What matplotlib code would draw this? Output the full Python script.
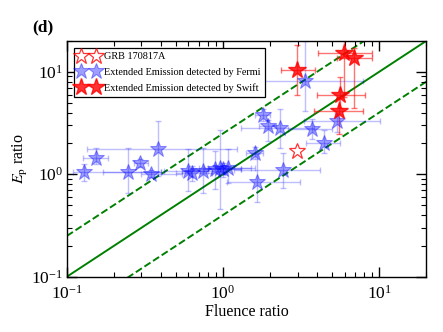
import numpy as np
import matplotlib.pyplot as plt

plt.rcParams['font.family'] = ['Liberation Serif', 'DejaVu Serif']
plt.rcParams['mathtext.fontset'] = 'stix'

# Fermi extended emission (blue)
fermi_x = [0.129, 0.154, 0.247, 0.294, 0.346, 0.384, 0.597, 0.634, 0.745, 0.889, 0.957, 1.076,
           1.00, 1.60, 1.65, 2.42, 1.80, 1.94, 2.32, 3.71, 4.43, 5.36, 3.35]
fermi_y = [1.05, 1.44, 1.05, 1.29, 1.01, 1.76, 1.08, 1.03, 1.08, 1.13, 1.15, 1.15,
           1.13, 1.61, 0.84, 1.10, 3.83, 2.93, 2.80, 2.74, 2.01, 3.28, 8.17]
fermi_xlo = [0.11, 0.127, 0.17, 0.27, 0.30, 0.135, 0.42, 0.50, 0.55, 0.60, 0.70, 0.80,
             0.75, 1.40, 1.06, 1.17, 1.60, 1.70, 1.30, 2.60, 3.40, 3.30, 1.55]
fermi_xhi = [0.40, 0.184, 0.40, 0.33, 0.55, 1.23, 0.80, 0.85, 1.00, 1.30, 1.60, 1.50,
             1.30, 1.80, 3.10, 4.20, 2.00, 2.20, 3.80, 5.00, 5.60, 10.1, 7.90]
fermi_ylo = [0.86, 1.26, 0.66, 1.18, 0.93, 0.96, 0.69, 0.85, 0.66, 0.71, 0.46, 0.82,
             0.95, 1.40, 0.53, 0.74, 3.30, 2.10, 1.80, 2.20, 1.60, 2.60, 4.10]
fermi_yhi = [1.26, 1.80, 1.80, 1.42, 1.10, 3.28, 1.75, 1.20, 1.80, 1.67, 2.73, 1.75,
             1.30, 1.84, 1.56, 1.60, 4.30, 3.40, 4.30, 3.50, 2.70, 4.00, 20.0]

# Swift extended emission (red)
swift_x = [2.97, 5.94, 6.89, 5.61, 5.52]
swift_y = [10.4, 15.2, 13.6, 5.98, 4.19]
swift_xlo = [2.34, 4.06, 5.40, 3.97, 3.80]
swift_xhi = [3.87, 8.98, 9.00, 8.10, 7.90]
swift_ylo = [6.0, 5.7, 4.4, 4.4, 2.45]
swift_yhi = [18.2, 22.0, 17.0, 8.9, 5.5]

# GRB 170817A
grb_x = [2.97]
grb_y = [1.68]

line_factor = 2.5
line_x = np.array([0.1, 20.0])

fig = plt.figure(figsize=(4.43, 3.32), dpi=100)
ax = fig.add_axes([0.151, 0.1666, 0.811, 0.71])

ax.plot(line_x, line_x, '-', color='green', lw=1.4, zorder=1)
ax.plot(line_x, line_x * line_factor, '--', color='green', lw=1.4, zorder=1)
ax.plot(line_x, line_x / line_factor, '--', color='green', lw=1.4, zorder=1)

fx = np.array(fermi_x)
fy = np.array(fermi_y)
ax.errorbar(fx, fy,
            xerr=[fx - np.array(fermi_xlo), np.array(fermi_xhi) - fx],
            yerr=[fy - np.array(fermi_ylo), np.array(fermi_yhi) - fy],
            fmt='none', ecolor='blue', alpha=0.25, elinewidth=1.0, capsize=2, zorder=2)
h_fermi, = ax.plot(fx, fy, '*', color='blue', alpha=0.38, ms=12, mec='blue', mew=0.8,
                   ls='none', zorder=3, label='Extended Emission detected by Fermi')

sx = np.array(swift_x)
sy = np.array(swift_y)
ax.errorbar(sx, sy,
            xerr=[sx - np.array(swift_xlo), np.array(swift_xhi) - sx],
            yerr=[sy - np.array(swift_ylo), np.array(swift_yhi) - sy],
            fmt='none', ecolor='red', alpha=0.55, elinewidth=1.0, capsize=2, zorder=2)
h_swift, = ax.plot(sx, sy, '*', color='red', alpha=0.8, ms=13, ls='none', zorder=4,
                   label='Extended Emission detected by Swift')

h_grb, = ax.plot(grb_x, grb_y, '*', mfc='none', mec='red', alpha=0.8, ms=12, mew=0.9,
                 ls='none', zorder=4, label='GRB 170817A')

ax.set_xscale('log')
ax.set_yscale('log')
ax.set_xlim(0.1, 20)
ax.set_ylim(0.1, 20)
ax.tick_params(which='both', direction='in', top=True, right=True, labelsize=12.5)
ax.tick_params(axis='x', pad=6)
ax.tick_params(axis='y', pad=3)
ax.tick_params(which='major', length=7, width=1)
ax.tick_params(which='minor', length=3.5, width=0.8)
for sp in ax.spines.values():
    sp.set_linewidth(1)

ax.set_xlabel('Fluence ratio', fontsize=11.5, labelpad=1)
ax.set_ylabel(r'$E_{\rm p}$ ratio', fontsize=11.5, labelpad=1)

leg = ax.legend(handles=[h_grb, h_fermi, h_swift], loc='upper left', numpoints=2,
                fontsize=7.4, fancybox=False, edgecolor='black', framealpha=1,
                borderaxespad=0.65, handletextpad=0.5, borderpad=0.45, labelspacing=0.6,
                handlelength=2.0)
leg.get_frame().set_linewidth(0.9)

fig.text(0.072, 0.905, '(d)', fontsize=12.5, fontweight='bold')

fig.savefig('out.png', dpi=100)
